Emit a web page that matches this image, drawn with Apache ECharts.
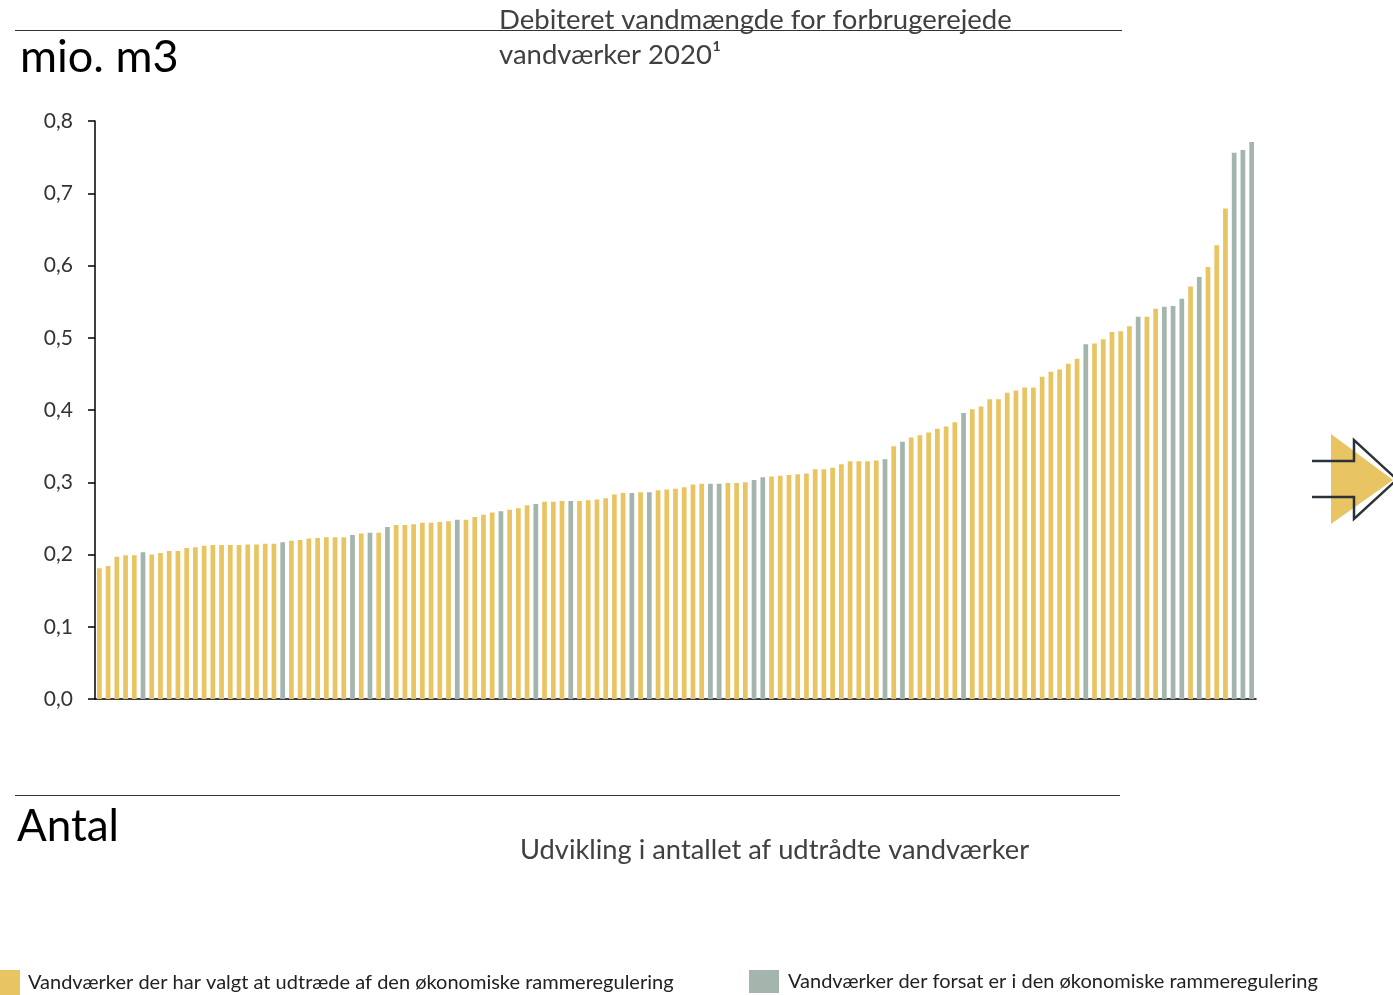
<!DOCTYPE html>
<html><head><meta charset="utf-8">
<script src="https://cdn.jsdelivr.net/npm/echarts@6/dist/echarts.min.js"></script>
<style>html,body{margin:0;padding:0;background:#fff}#c{width:1393px;height:995px}</style>
</head><body><div id="c"></div>
<script>
// Values (mio. m3), sorted ascending, one per waterworks
const values = [
0.181,0.184,0.197,0.199,0.199,0.203,0.200,0.202,0.205,0.205,
0.209,0.210,0.212,0.213,0.213,0.213,0.213,0.214,0.214,0.215,
0.215,0.217,0.219,0.220,0.222,0.223,0.224,0.224,0.224,0.227,
0.229,0.230,0.230,0.238,0.241,0.241,0.242,0.244,0.244,0.245,
0.246,0.248,0.248,0.252,0.255,0.258,0.260,0.262,0.264,0.268,
0.270,0.273,0.273,0.274,0.274,0.274,0.275,0.276,0.278,0.283,
0.285,0.285,0.286,0.286,0.289,0.290,0.291,0.293,0.297,0.298,
0.298,0.298,0.299,0.299,0.300,0.303,0.307,0.308,0.309,0.310,
0.311,0.312,0.318,0.318,0.320,0.325,0.329,0.329,0.329,0.330,
0.332,0.350,0.356,0.362,0.365,0.369,0.374,0.377,0.383,0.396,
0.401,0.405,0.415,0.415,0.424,0.427,0.431,0.431,0.446,0.453,
0.456,0.464,0.471,0.491,0.492,0.498,0.508,0.509,0.516,0.529,
0.529,0.540,0.543,0.544,0.554,0.571,0.584,0.598,0.628,0.679,
0.756,0.760,0.771
];
// 'u' = udtrådt (left the regulation), 'r' = still in regulation
const statusArr = [
'u','u','u','u','u','r','u','u','u','u',
'u','u','u','u','u','u','u','u','u','u',
'u','r','u','u','u','u','u','u','u','r',
'u','r','u','r','u','u','u','u','u','u',
'u','r','u','u','u','u','r','u','u','u',
'r','u','u','u','r','u','u','u','u','u',
'u','r','u','r','u','u','u','u','u','u',
'r','r','u','u','u','r','r','u','u','u',
'u','u','u','u','u','u','u','u','u','u',
'r','u','r','u','u','u','u','u','u','r',
'u','u','u','u','u','u','u','u','u','u',
'u','u','u','r','u','u','u','u','u','r',
'u','u','r','r','r','u','r','u','u','u',
'r','r','r'
];
const yTicks = [0,0.1,0.2,0.3,0.4,0.5,0.6,0.7,0.8];
const seriesNames = ['Vandværker der har valgt at udtræde af den økonomiske rammeregulering','Vandværker der forsat er i den økonomiske rammeregulering'];
const categories = values.map((v,i)=>String(i+1));

const YEL = '#E9C462', GRY = '#A3B5AC';
const dataU = values.map((v,i)=>statusArr[i]==='u'?v:'-');
const dataR = values.map((v,i)=>statusArr[i]==='r'?v:'-');

const chart = echarts.init(document.getElementById('c'));
const FONT = 'Lato';
chart.setOption({
  animation:false,
  textStyle:{fontFamily:FONT},
  grid:{left:95,right:137,top:121,bottom:296,containLabel:false},
  xAxis:{type:'category',data:categories,axisLabel:{show:false},axisTick:{show:false},
    axisLine:{lineStyle:{color:'#000',width:1.5}}},
  yAxis:{type:'value',min:yTicks[0],max:yTicks[yTicks.length-1],interval:0.1,splitLine:{show:false},
    axisLine:{show:true,lineStyle:{color:'#000',width:1.5}},
    axisTick:{show:true,length:7,lineStyle:{color:'#000',width:1.5}},
    axisLabel:{margin:22,fontSize:21,color:'#333',fontFamily:FONT,
      formatter:v=>v.toFixed(1).replace('.',',')}},
  legend:[
    {data:[seriesNames[0]],left:0,top:970,itemWidth:20,itemHeight:25,itemGap:0,
     textStyle:{fontSize:20,color:'#222',fontFamily:FONT,padding:[14,0,0,3]},padding:0,icon:'rect'},
    {data:[seriesNames[1]],left:749,top:970,itemWidth:30,itemHeight:23,itemGap:0,
     textStyle:{fontSize:20,color:'#222',fontFamily:FONT,padding:[10,0,0,4]},padding:0,icon:'rect'}
  ],
  series:[
    {name:seriesNames[0],type:'bar',stack:'a',data:dataU,barCategoryGap:'46%',itemStyle:{color:YEL}},
    {name:seriesNames[1],type:'bar',stack:'a',data:dataR,barCategoryGap:'46%',itemStyle:{color:GRY}}
  ],
  graphic:[
    {type:'line',shape:{x1:15,y1:30.5,x2:1122,y2:30.5},style:{stroke:'#333',lineWidth:1.2}},
    {type:'line',shape:{x1:15,y1:795.5,x2:1120,y2:795.5},style:{stroke:'#333',lineWidth:1.2}},
    {type:'text',left:20,top:35,style:{text:'mio. m3',fontSize:45,fill:'#000',fontFamily:FONT}},
    {type:'text',left:499,top:6,style:{text:'Debiteret vandmængde for forbrugerejede',fontSize:27.5,fill:'#404040',fontFamily:FONT}},
    {type:'text',left:499,top:41,style:{text:'vandværker 2020¹',fontSize:27.5,fill:'#404040',fontFamily:FONT}},
    {type:'text',left:17,top:805,style:{text:'Antal',fontSize:44,fill:'#000',fontFamily:FONT}},
    {type:'text',left:520,top:837,style:{text:'Udvikling i antallet af udtrådte vandværker',fontSize:27.3,fill:'#404040',fontFamily:FONT}},
    {type:'polygon',shape:{points:[[1331,434],[1393,480],[1331,524]]},style:{fill:YEL}},
    {type:'polyline',shape:{points:[[1312,461],[1354,461],[1354,440],[1397,479.5],[1354,519],[1354,497],[1312,497]]},
      style:{stroke:'#2B3338',lineWidth:2.5,fill:null}}
  ]
});
</script></body></html>
